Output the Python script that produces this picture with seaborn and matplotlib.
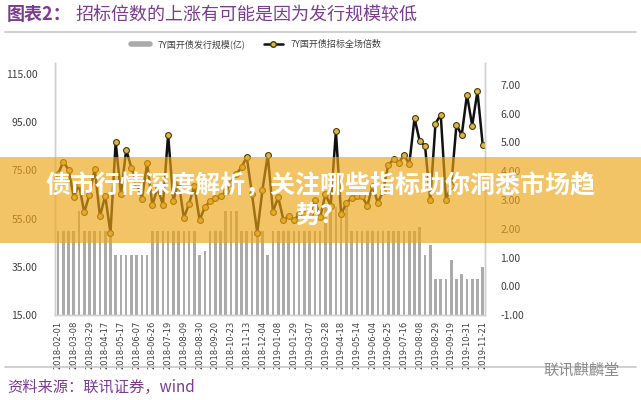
import numpy as np
import pandas as pd
import matplotlib
matplotlib.use("Agg")
import matplotlib.pyplot as plt
import seaborn as sns
from matplotlib.patches import Rectangle
from matplotlib.lines import Line2D

sns.set_style("white")
plt.rcParams['font.family'] = ['Noto Sans CJK SC', 'DejaVu Sans']
plt.rcParams['axes.unicode_minus'] = False

# tick labels shown on the x axis (every third issue)
tick_labels = ['2018-02-01', '2018-03-08', '2018-03-29', '2018-04-17', '2018-05-17',
               '2018-06-07', '2018-06-26', '2018-07-19', '2018-08-09', '2018-08-30',
               '2018-09-20', '2018-10-23', '2018-11-13', '2018-12-04', '2019-01-08',
               '2019-01-29', '2019-03-07', '2019-03-28', '2019-04-18', '2019-05-14',
               '2019-06-04', '2019-06-25', '2019-07-16', '2019-08-08', '2019-08-29',
               '2019-09-19', '2019-10-31', '2019-11-21']

# 7Y CDB issue size (100m yuan), left axis
issue_size = [50, 50, 50, 50, 58, 50, 50, 50, 50, 50,
              50, 40, 40, 40, 40, 40, 40, 40, 50, 50,
              50, 50, 50, 50, 50, 50, 50, 40, 41.5, 50,
              50, 50, 58, 58, 58, 50, 50, 50, 50, 50,
              40, 50, 50, 50, 50, 50, 50, 50, 50, 50,
              50, 60, 60, 60, 60, 60, 50, 50, 50, 50,
              50, 50, 50, 50, 50, 50, 50, 50, 50, 51.5,
              40, 44, 30, 30, 30, 38, 30, 32, 30, 30,
              30, 35]

# 7Y CDB bid-to-cover ratio, right axis
bid_cover = [3.9, 4.33, 4.06, 3.1, 3.54, 2.57, 3.19, 4.08, 2.43, 3.15,
             1.86, 5.01, 3.2, 4.75, 4.12, 3.6, 3.05, 4.28, 2.83, 3.42,
             2.83, 5.27, 2.96, 3.64, 2.38, 2.87, 3.5, 2.3, 2.75, 2.96,
             3.07, 3.13, 3.3, 3.6, 3.9, 4.14, 4.5, 3.2, 1.86, 3.36,
             4.56, 2.6, 3.1, 2.3, 2.45, 2.3, 2.5, 2.5, 2.5, 3.0,
             2.4, 3.2, 2.8, 5.39, 2.5, 2.9, 3.07, 3.13, 3.13, 2.8,
             3.5, 2.9, 3.3, 4.23, 4.41, 4.3, 4.56, 4.25, 5.84, 5.04,
             4.89, 3.0, 5.66, 5.97, 3.0, 3.5, 5.62, 5.25, 6.66, 5.59,
             6.78, 4.93]

df = pd.DataFrame({'idx': np.arange(len(issue_size)),
                   'size': issue_size, 'ratio': bid_cover})

fig = plt.figure(figsize=(6.41, 4.0), dpi=100)
W, H = 641, 400
ax = fig.add_axes([55.4 / W, 1 - 315 / H, (485.3 - 55.4) / W, 252 / H])

# bars
sns.barplot(data=df, x='idx', y='size', ax=ax, color='#ABABAB', width=0.5,
            saturation=1, edgecolor='none')
ax.set_ylim(15, 15 + 252 / 2.41)
ax.set_yticks([15, 35, 55, 75, 95, 115])
ax.set_yticklabels(['%.2f' % v for v in [15, 35, 55, 75, 95, 115]])
ax.set_xlim(-0.5, len(issue_size) - 0.5)
ax.set_xticks(range(0, len(issue_size), 3))
ax.set_xticklabels(tick_labels, rotation=90, fontsize=6, color='#404040',
                   family=['DejaVu Sans'])
ax.set_xticks(np.arange(-0.5, len(issue_size), 1), minor=True)
ax.tick_params(axis='x', which='both', length=2, color='#BFBFBF', pad=2)
ax.tick_params(axis='y', labelsize=7.5, labelcolor='#404040', length=0, pad=13)
ax.set_xlabel('')
ax.set_ylabel('')

# line on right axis
ax2 = ax.twinx()
sns.lineplot(data=df, x='idx', y='ratio', ax=ax2, color='#111111', linewidth=1.8,
             marker='o', markersize=4.2, markerfacecolor='#D8B648',
             markeredgecolor='#4A3A08', markeredgewidth=0.8)
ax2.set_ylim(-1, -1 + 252 / 28.75)
ax2.set_yticks(range(-1, 8))
ax2.set_yticklabels(['%.2f' % v for v in range(-1, 8)])
ax2.tick_params(axis='y', labelsize=7.5, labelcolor='#404040', length=0, pad=11)
ax2.set_ylabel('')
ax2.set_xlim(-0.5, len(issue_size) - 0.5)

for a in (ax, ax2):
    a.spines['top'].set_visible(False)
    for s in ['left', 'right', 'bottom']:
        a.spines[s].set_color('#D0D0D0')
        a.spines[s].set_linewidth(1.0)

# legend
handles = [Line2D([0], [0], color='#ABABAB', linewidth=4),
           Line2D([0], [0], color='#111111', linewidth=1.8, marker='o', markersize=4,
                  markerfacecolor='#D8B648', markeredgecolor='#4A3A08')]
fig.legend(handles, ['7Y国开债发行规模(亿)', '7Y国开债招标全场倍数'], loc='center',
           bbox_to_anchor=(256 / W, 1 - 44 / H), ncol=2, frameon=False, fontsize=6.5,
           handlelength=2.2, columnspacing=2.0, labelcolor='#404040')

# title and rules
fig.text(7 / W, 1 - 15 / H, '图表2：', fontsize=13, color='#7B3D91', va='center',
         fontweight='bold')
fig.text(75 / W, 1 - 15 / H, '招标倍数的上涨有可能是因为发行规模较低', fontsize=13,
         color='#7B3D91', va='center')
fig.add_artist(Line2D([5 / W, 636 / W], [1 - 32 / H, 1 - 32 / H], color='#C8C8C8',
                      linewidth=1.2, transform=fig.transFigure))
fig.add_artist(Line2D([5 / W, 636 / W], [1 - 367 / H, 1 - 367 / H], color='#C8C8C8',
                      linewidth=1.2, transform=fig.transFigure))
fig.text(7 / W, 1 - 387 / H, '资料来源：联讯证券，wind', fontsize=11, color='#7B3D91',
         va='center', style='italic')
fig.text(543 / W, 1 - 370 / H, '联讯麒麟堂', fontsize=11, color='#8C8C8C', va='center',
         zorder=7)

# overlay banner
fig.add_artist(Rectangle((0, 1 - 243 / H), 1, 86 / H, transform=fig.transFigure,
                         facecolor='#EEA514', alpha=0.65, edgecolor='none', zorder=5))
fig.text(0.5, 1 - 186 / H, '债市行情深度解析，关注哪些指标助你洞悉市场趋', fontsize=18,
         color='white', fontweight='bold', ha='center', va='center', zorder=6)
fig.text(0.5, 1 - 216 / H, '势？', fontsize=18, color='white', fontweight='bold',
         ha='center', va='center', zorder=6)

fig.savefig('out.png', dpi=100)
